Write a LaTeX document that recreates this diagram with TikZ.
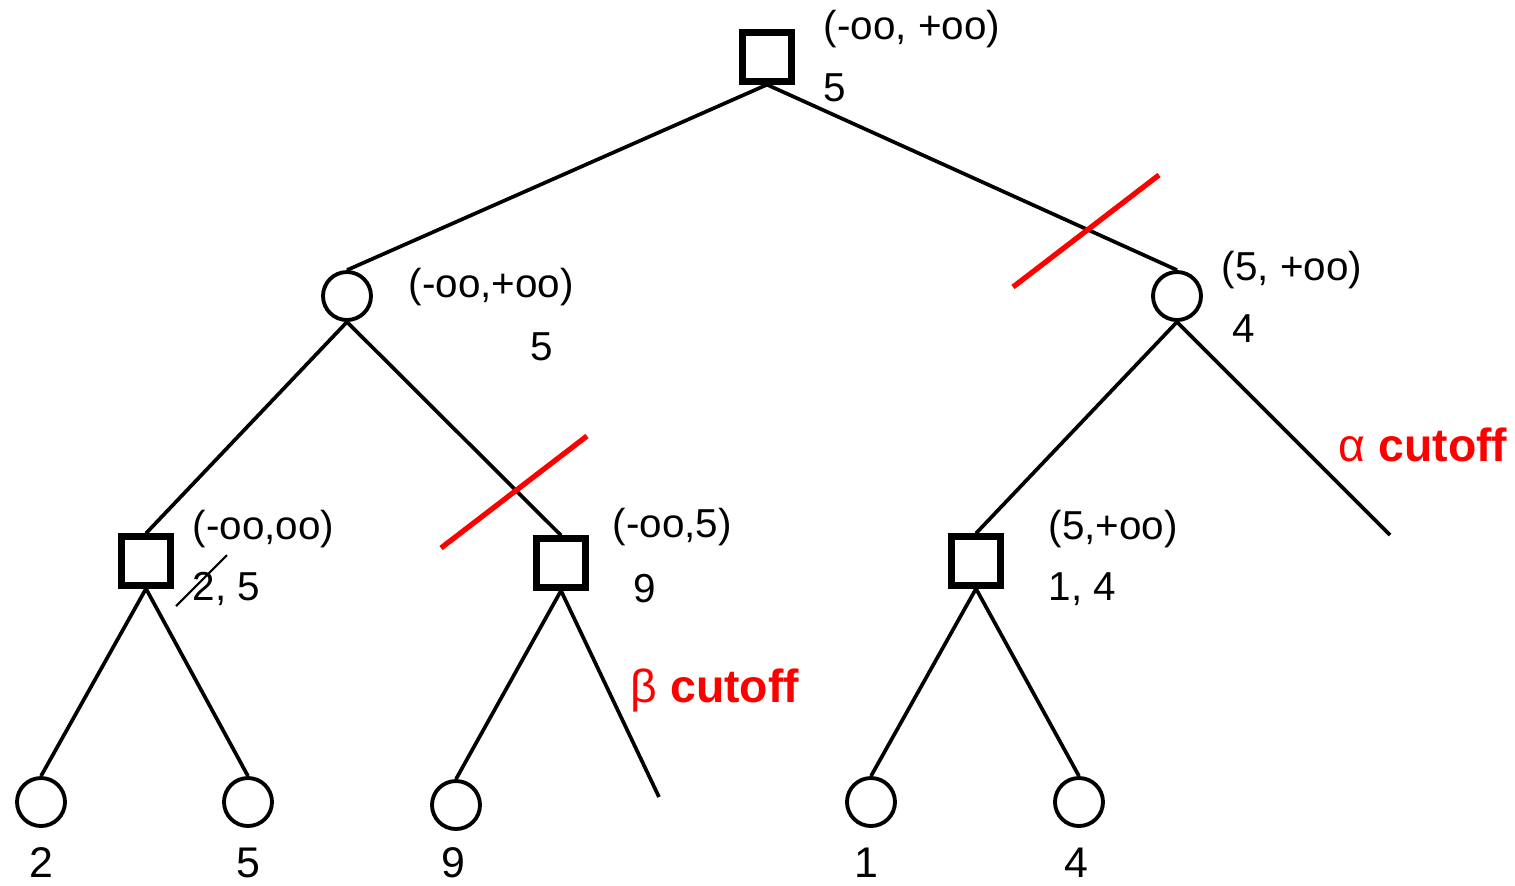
\documentclass[tikz,border=0pt]{standalone}
\usepackage{fontspec}
\setmainfont{Liberation Sans}
\usetikzlibrary{positioning}

\begin{document}
\begin{tikzpicture}[node distance=0.2cm,
      maxnode/.style={rectangle,draw=black,line width=1.8pt,minimum size=0.49cm,inner sep=0pt},
      minnode/.style={circle,draw=black,line width=1.1pt,minimum size=0.48cm,inner sep=0pt},
      val/.style={anchor=west,inner sep=0pt,font=\fontsize{11.5}{13}\selectfont},
      leafval/.style={inner sep=0pt,font=\fontsize{12.2}{14}\selectfont},
      edge/.style={line width=1.05pt},
      cut/.style={red,line width=1.5pt},
      cuttext/.style={anchor=west,inner sep=0pt,red,font=\fontsize{13.2}{15}\selectfont}
      ]
      \useasboundingbox (0,0) rectangle (15.15,-8.85);
      % tree nodes
      \node (root) [maxnode] at (7.67,-0.57)  {};
      \node (l)    [minnode] at (3.47,-2.96)  {};
      \node (r)    [minnode] at (11.77,-2.96) {};
      \node (ll)   [maxnode] at (1.46,-5.61)  {};
      \node (lr)   [maxnode] at (5.61,-5.63)  {};
      \node (rl)   [maxnode] at (9.76,-5.61)  {};
      \node (a1)   [minnode] at (0.41,-8.02)  {};
      \node (a2)   [minnode] at (2.48,-8.02)  {};
      \node (a3)   [minnode] at (4.56,-8.05)  {};
      \node (a4)   [minnode] at (8.71,-8.02)  {};
      \node (a5)   [minnode] at (10.79,-8.02) {};
      \coordinate (rcut) at (13.90,-5.35);
      \coordinate (lrcut) at (6.59,-7.97);
      % edges
      \draw[edge] (root.south) -- (l.north);
      \draw[edge] (root.south) -- (r.north);
      \draw[edge] (l.south) -- (ll.north);
      \draw[edge] (l.south) -- (lr.north);
      \draw[edge] (r.south) -- (rl.north);
      \draw[edge] (r.south) -- (rcut);
      \draw[edge] (ll.south) -- (a1.north);
      \draw[edge] (ll.south) -- (a2.north);
      \draw[edge] (lr.south) -- (a3.north);
      \draw[edge] (lr.south) -- (lrcut);
      \draw[edge] (rl.south) -- (a4.north);
      \draw[edge] (rl.south) -- (a5.north);
      % alpha-beta windows and values
      \node (w0) [val] at (8.23,-0.29) {(-oo, +oo)};
      \node (v0) [val] at (8.23,-0.88) {5};
      \node (w1) [val] at (4.08,-2.87) {(-oo,+oo)};
      \node (v1) [val] at (5.30,-3.47) {5};
      \node (w2) [val] at (12.21,-2.70) {(5, +oo)};
      \node (v2) [val] at (12.32,-3.29) {4};
      \node (w3) [val] at (1.92,-5.29) {(-oo,oo)};
      \node (v3) [val] at (1.92,-5.89) {2, 5};
      \node (w4) [val] at (6.12,-5.27) {(-oo,5)};
      \node (v4) [val] at (6.33,-5.89) {9};
      \node (w5) [val] at (10.48,-5.29) {(5,+oo)};
      \node (v5) [val] at (10.48,-5.89) {1, 4};
      \coordinate (s1) at (1.76,-6.06);
      \coordinate (s2) at (2.27,-5.55);
      \draw[line width=0.6pt] (s1) -- (s2);
      % leaf values
      \node (n1) [leafval] at (0.41,-8.63)  {2};
      \node (n2) [leafval] at (2.48,-8.63)  {5};
      \node (n3) [leafval] at (4.53,-8.63)  {9};
      \node (n4) [leafval] at (8.66,-8.63)  {1};
      \node (n5) [leafval] at (10.76,-8.63) {4};
      % cutoffs
      \coordinate (c1) at (10.13,-2.87);
      \coordinate (c2) at (11.59,-1.75);
      \coordinate (c3) at (4.41,-5.48);
      \coordinate (c4) at (5.87,-4.36);
      \draw[cut] (c1) -- (c2);
      \draw[cut] (c3) -- (c4);
      \node (alpha) [cuttext] at (13.38,-4.45) {α \textbf{cutoff}};
      \node (beta)  [cuttext] at (6.30,-6.90) {β \textbf{cutoff}};
\end{tikzpicture}
\end{document}
